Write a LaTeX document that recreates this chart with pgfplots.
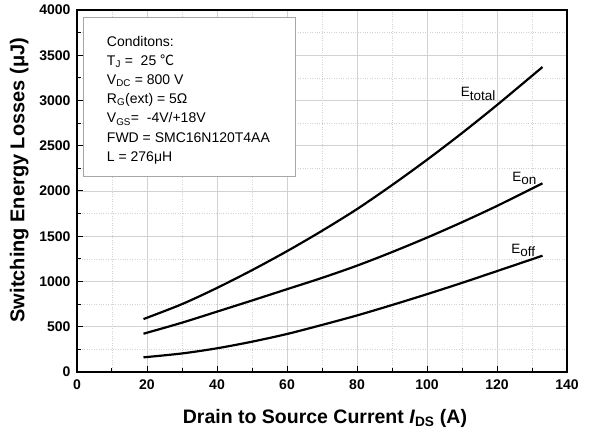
\documentclass[border=0pt]{standalone}
\usepackage{fontspec}
\setmainfont{Liberation Sans}
\newfontfamily\cjk{Noto Sans CJK SC}
\usepackage{pgfplots}
\pgfplotsset{compat=1.18}
\begin{document}
\begin{tikzpicture}
\begin{axis}[
  scale only axis,
  width=490pt, height=362pt,
  xmin=0, xmax=140, ymin=0, ymax=4000,
  xtick={0,20,...,140}, ytick={0,500,...,4000},
  minor x tick num=1, minor y tick num=1,
  xtick pos=left, ytick pos=left,
  tick align=inside,
  major tick length=6pt, minor tick length=4pt,
  tick style={black, line width=1pt},
  axis line style={black, line width=1.3pt},
  grid=both,
  major grid style={gray!35, line width=0.6pt},
  minor grid style={gray!35, dotted, line width=0.6pt},
  /pgf/number format/assume math mode=true,
  /pgf/number format/1000 sep={},
  tick label style={font=\fontsize{14}{16}\selectfont\bfseries},
  xticklabel style={yshift=-4pt},
  yticklabel style={xshift=-3pt},
  xlabel={Drain to Source Current \textit{I}\textsubscript{DS} (A)},
  ylabel={Switching Energy Losses (μJ)},
  xlabel style={font=\fontsize{19.5}{21}\selectfont\bfseries, at={(axis description cs:0.506,-0.141)}, anchor=base},
  ylabel style={font=\fontsize{20}{22}\selectfont\bfseries, at={(axis description cs:-0.118,0.53)}, anchor=center},
]
\addplot[black, line width=2.2pt, smooth] coordinates {
(19,585) (30,750) (40,929) (50,1125) (60,1335) (70,1560) (80,1800) (90,2065) (100,2345) (110,2640) (120,2950) (133,3370)};
\addplot[black, line width=2.2pt, smooth] coordinates {
(19,423) (30,545) (40,667) (50,790) (60,915) (70,1040) (80,1175) (90,1325) (100,1485) (110,1655) (120,1835) (133,2085)};
\addplot[black, line width=2.2pt, smooth] coordinates {
(19,162) (30,205) (40,262) (50,335) (60,420) (70,520) (80,625) (90,740) (100,860) (110,985) (120,1115) (133,1285)};
\draw[gray!70, line width=0.8pt, fill=white] (axis cs:1.7,3923) rectangle (axis cs:62.5,2166);
\begin{scope}[every node/.style={anchor=base west, inner sep=0pt, font=\fontsize{14}{16}\selectfont}]
\node at (axis cs:8.5,3602) {Conditons:};
\node at (axis cs:8.5,3390) {T\textsubscript{J} =\ \ 25 {\cjk ℃}};
\node at (axis cs:8.5,3177) {V\textsubscript{DC} = 800 V};
\node at (axis cs:8.5,2965) {R\textsubscript{G}(ext) = 5Ω};
\node at (axis cs:8.5,2753) {V\textsubscript{GS}=\ \ -4V/+18V};
\node at (axis cs:8.5,2541) {FWD = SMC16N120T4AA};
\node at (axis cs:8.5,2329) {L = 276μH};
\end{scope}
\node[font=\fontsize{13.5}{15}\selectfont, anchor=base] at (axis cs:114.6,3040) {E\raisebox{-3.5pt}{total}};
\node[font=\fontsize{13.5}{15}\selectfont, anchor=base] at (axis cs:127.8,2110) {E\raisebox{-3.5pt}{on}};
\node[font=\fontsize{13.5}{15}\selectfont, anchor=base] at (axis cs:127.5,1310) {E\raisebox{-3.5pt}{off}};
\coordinate (sw) at (rel axis cs:0,0);
\coordinate (ne) at (rel axis cs:1,1);
\end{axis}
\pgfresetboundingbox
\path[use as bounding box] ([shift={(-77pt,-61pt)}]sw) rectangle ([shift={(26pt,10pt)}]ne);
\end{tikzpicture}
\end{document}
